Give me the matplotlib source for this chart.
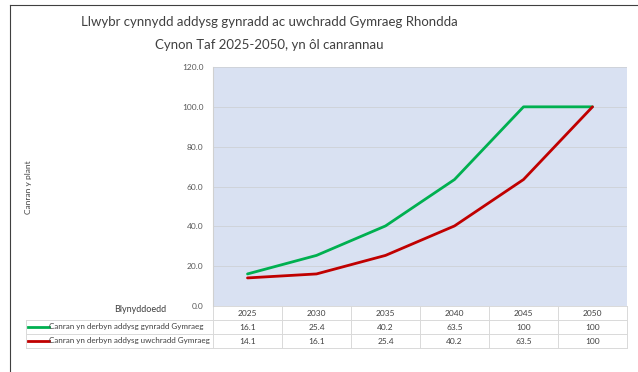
import numpy as np
import matplotlib.pyplot as plt
from matplotlib import transforms
from matplotlib.lines import Line2D

years = ['2025', '2030', '2035', '2040', '2045', '2050']
primary = [16.1, 25.4, 40.2, 63.5, 100, 100]
secondary = [14.1, 16.1, 25.4, 40.2, 63.5, 100]
primary_labels = ['16.1', '25.4', '40.2', '63.5', '100', '100']
secondary_labels = ['14.1', '16.1', '25.4', '40.2', '63.5', '100']
series_names = ['Canran yn derbyn addysg gynradd Gymraeg',
                'Canran yn derbyn addysg uwchradd Gymraeg']
colors = ['#00B050', '#C00000']

W, H = 638, 372
fig = plt.figure(figsize=(W / 100, H / 100), dpi=100)
plt.rcParams['font.family'] = ['Lato', 'DejaVu Sans']

# plot area in pixels
left, right, top, bottom = 213, 627, 67, 306
ax = fig.add_axes([left / W, 1 - bottom / H, (right - left) / W, (bottom - top) / H])
ax.set_facecolor('#D9E1F2')

x = np.arange(len(years))
ax.plot(x, primary, color=colors[0], lw=2.0, solid_capstyle='round')
ax.plot(x, secondary, color=colors[1], lw=2.0, solid_capstyle='round')

ax.set_xlim(-0.5, len(years) - 0.5)
ax.set_ylim(0, 120)
ax.set_yticks(np.arange(0, 121, 20))
ax.set_yticklabels([f'{v:.1f}' for v in np.arange(0, 121, 20)])
ax.tick_params(axis='y', length=0, labelsize=6, labelcolor='#595959', pad=7)
ax.set_xticks([])
ax.grid(axis='y', color='#CFD3DA', lw=0.7)
ax.set_axisbelow(True)
for s in ['top', 'right', 'bottom']:
    ax.spines[s].set_visible(False)
ax.spines['left'].set_color('#D0D0D0')

# data table below the plot
tr = transforms.blended_transform_factory(ax.transData, ax.transAxes)
row_h = 14 / (bottom - top)
unit = (right - left) / len(years)  # pixels per year column
x_left = -0.5 - (213 - 26) / unit
grid_kw = dict(color='#D9D9D9', lw=0.7, transform=tr, clip_on=False)

ax.add_line(Line2D([-0.5, 5.5], [0, 0], **grid_kw))
for r in range(1, 4):
    ax.add_line(Line2D([x_left, 5.5], [-r * row_h] * 2, **grid_kw))
for i in range(len(years) + 1):
    ax.add_line(Line2D([i - 0.5] * 2, [0, -3 * row_h], **grid_kw))
ax.add_line(Line2D([x_left] * 2, [-row_h, -3 * row_h], **grid_kw))

txt_kw = dict(transform=tr, ha='center', va='center', fontsize=6, color='#404040', clip_on=False)
for i, yr in enumerate(years):
    ax.text(i, -0.5 * row_h, yr, **txt_kw)
    ax.text(i, -1.5 * row_h, primary_labels[i], **txt_kw)
    ax.text(i, -2.5 * row_h, secondary_labels[i], **txt_kw)

for k, name in enumerate(series_names):
    yy = -(1.5 + k) * row_h
    ax.add_line(Line2D([x_left + 0.03, x_left + 0.34], [yy, yy], color=colors[k], lw=2.0,
                       transform=tr, clip_on=False))
    ax.text(x_left + 0.34, yy, name, transform=tr, ha='left', va='center',
            fontsize=5.8, color='#404040', clip_on=False)

fig.text(140 / W, 1 - 309 / H, 'Blynyddoedd', ha='center', va='center', fontsize=6.5, color='#404040')
fig.text(29 / W, 1 - 187 / H, 'Canran y plant', ha='center', va='center', rotation=90,
         fontsize=6, color='#404040')

fig.text(269 / W, 1 - 22 / H, 'Llwybr cynnydd addysg gynradd ac uwchradd Gymraeg Rhondda',
         ha='center', va='center', fontsize=9.5, color='#404040')
fig.text(269 / W, 1 - 45 / H, 'Cynon Taf 2025-2050, yn ôl canrannau',
         ha='center', va='center', fontsize=9.5, color='#404040')

# screenshot border (left and top)
fig.add_artist(Line2D([10 / W, 10 / W], [0, 1 - 5 / H], color='#404040', lw=0.8))
fig.add_artist(Line2D([10 / W, 1], [1 - 5 / H, 1 - 5 / H], color='#404040', lw=0.8))

fig.savefig('out.png', dpi=100)
